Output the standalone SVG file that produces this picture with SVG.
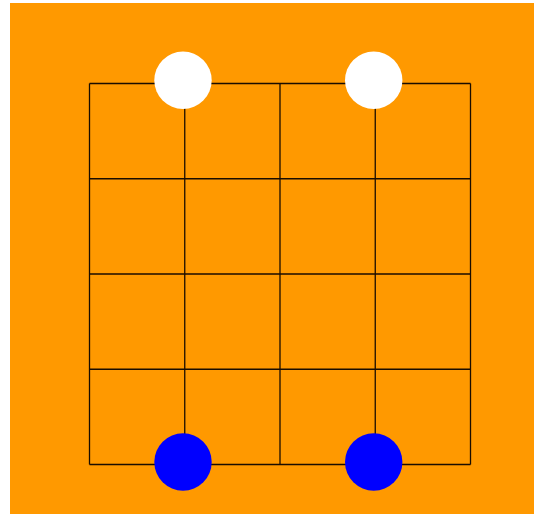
<svg xmlns="http://www.w3.org/2000/svg" width="534" height="515" viewBox="0 0 534 515">
<style>
.grid line{stroke:#1a0d00;stroke-width:1.3}
.w{fill:#ffffff}
.b{fill:#0000ff}
</style>
<rect x="0" y="0" width="534" height="515" fill="#ffffff"/>
<rect x="10" y="3" width="524" height="511" fill="#ff9900"/>
<g id="connectors" class="grid">
<line x1="89.5" y1="83.5" x2="470.5" y2="83.5"/>
<line x1="89.5" y1="178.75" x2="470.5" y2="178.75"/>
<line x1="89.5" y1="274" x2="470.5" y2="274"/>
<line x1="89.5" y1="369.25" x2="470.5" y2="369.25"/>
<line x1="89.5" y1="464.5" x2="470.5" y2="464.5"/>
<line x1="89.5" y1="83.5" x2="89.5" y2="464.5"/>
<line x1="184.75" y1="83.5" x2="184.75" y2="464.5"/>
<line x1="280" y1="83.5" x2="280" y2="464.5"/>
<line x1="375.25" y1="83.5" x2="375.25" y2="464.5"/>
<line x1="470.5" y1="83.5" x2="470.5" y2="464.5"/>
</g>
<g id="white1"><circle class="w" cx="183" cy="80.3" r="28.7"/></g>
<g id="white2"><circle class="w" cx="373.7" cy="80.3" r="28.7"/></g>
<g id="blue1"><circle class="b" cx="183" cy="462" r="28.7"/></g>
<g id="blue2"><circle class="b" cx="373.7" cy="462" r="28.7"/></g>
</svg>
